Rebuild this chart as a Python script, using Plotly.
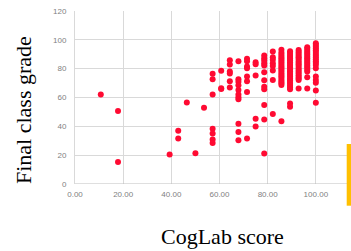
import plotly.graph_objects as go

# CogLab score columns (discrete) and the final grades observed at each
c_10_7 = [62.0]
c_17_9 = [50.6, 15.3]
c_39_3 = [20.4]
c_42_9 = [36.9, 31.6]
c_46_4 = [56.6]
c_50_0 = [21.4]
c_53_6 = [52.9]
c_57_1 = [76.4, 72.7, 62.0, 38.3, 35.1, 30.9, 28.5]
c_60_7 = [78.5, 65.9, 66.5]
c_64_3 = [85.9, 82.9, 78.0, 76.6, 71.3, 66.9]
c_67_9 = [85.2, 72.7, 71.0, 68.5, 65.2, 62.0, 60.1, 58.7, 41.8, 36.0, 30.4]
c_71_4 = [86.8, 85.2, 81.5, 80.3, 74.5, 71.3, 63.8, 31.6]
c_75_0 = [84.5, 83.1, 75.2, 45.3, 39.9]
c_78_6 = [89.1, 87.3, 85.7, 83.8, 82.2, 77.5, 72.0, 67.5, 65.7, 54.8, 44.8, 21.1]
c_82_1 = [91.9, 88.0, 86.1, 83.8, 81.9, 78.7, 72.2, 48.5]
c_85_7 = [93.1, 91.2, 89.8, 88.5, 87.2, 86.0, 84.8, 83.5, 82.2, 81.0, 79.8, 78.5,
          77.2, 76.0, 74.8, 73.5, 72.2, 71.0, 69.8, 68.7, 43.6]
c_89_3 = [92.0, 90.8, 89.5, 88.2, 87.0, 85.8, 84.5, 83.2, 82.0, 80.8, 79.5, 78.2,
          77.0, 75.8, 74.5, 73.2, 72.0, 70.8, 69.5, 68.2, 67.0, 65.7, 55.9, 53.6]
c_92_9 = [93.0, 91.8, 90.5, 89.2, 88.0, 86.8, 85.5, 84.2, 83.0, 81.8, 80.5, 79.2,
          78.0, 76.8, 75.5, 74.2, 73.2, 72.2, 66.2]
c_96_4 = [94.9, 93.6, 92.3, 91.0, 89.8, 88.5, 87.2, 86.0, 84.8, 83.5, 82.2, 81.0,
          79.5, 78.0, 74.0, 66.2]
c_100 = [97.7, 96.5, 95.2, 94.0, 92.8, 91.5, 90.2, 89.0, 87.8, 86.5, 85.2, 84.0,
         82.6, 80.3, 74.5, 72.2, 70.3, 64.8, 56.4]

columns = [
    (10.71, c_10_7), (17.86, c_17_9), (39.29, c_39_3), (42.86, c_42_9),
    (46.43, c_46_4), (50.00, c_50_0), (53.57, c_53_6), (57.14, c_57_1),
    (60.71, c_60_7), (64.29, c_64_3), (67.86, c_67_9), (71.43, c_71_4),
    (75.00, c_75_0), (78.57, c_78_6), (82.14, c_82_1), (85.71, c_85_7),
    (89.29, c_89_3), (92.86, c_92_9), (96.43, c_96_4), (100.00, c_100),
]

x_vals = []
y_vals = []
for score, grades in columns:
    for g in grades:
        x_vals.append(score)
        y_vals.append(g)

x_ticks = [0, 20, 40, 60, 80, 100]
x_tick_text = ["0.00", "20.00", "40.00", "60.00", "80.00", "100.00"]
y_ticks = [0, 20, 40, 60, 80, 100, 120]

fig = go.Figure()
fig.add_trace(go.Scatter(
    x=x_vals, y=y_vals, mode="markers",
    marker=dict(color="#FF0A32", size=6, line=dict(width=0)),
    hoverinfo="x+y",
))

tick_font = dict(family="Liberation Sans, Arial, sans-serif", size=8, color="#7F7F7F")

fig.update_layout(
    width=351, height=251,
    margin=dict(l=75, r=0, t=11, b=67),
    paper_bgcolor="white", plot_bgcolor="white",
    showlegend=False,
    xaxis=dict(
        range=[0, 114.6], tickvals=x_ticks, ticktext=x_tick_text,
        showgrid=True, gridcolor="#D9D9D9", gridwidth=1,
        zeroline=False, showline=False, ticks="",
        tickfont=tick_font, ticklabelstandoff=4,
    ),
    yaxis=dict(
        range=[0, 120], tickvals=y_ticks,
        showgrid=True, gridcolor="#D9D9D9", gridwidth=1,
        zeroline=False, showline=True, linecolor="#D9D9D9", linewidth=1,
        ticks="", tickfont=tick_font, ticklabelstandoff=6,
    ),
    annotations=[
        dict(text="CogLab score", xref="paper", yref="paper",
             x=(222 - 75) / 276, y=(184 - 237) / 173,
             xanchor="center", yanchor="middle", showarrow=False,
             font=dict(family="Liberation Serif, Times New Roman, serif", size=22, color="black")),
        dict(text="Final class grade", xref="paper", yref="paper",
             x=(23 - 75) / 276, y=(184 - 110) / 173, textangle=-90,
             xanchor="center", yanchor="middle", showarrow=False,
             font=dict(family="Liberation Serif, Times New Roman, serif", size=22, color="black")),
    ],
    shapes=[
        dict(type="line", xref="paper", yref="y", x0=0, x1=1, y0=0, y1=0,
             line=dict(color="#BFBFBF", width=1)),
        dict(type="rect", xref="paper", yref="paper",
             x0=(346.7 - 75) / 276, x1=1.0,
             y0=(184 - 205.7) / 173, y1=(184 - 144) / 173,
             fillcolor="#FFC000", line=dict(width=0), layer="above"),
    ],
)

fig.write_html("out.html",
               config={"displayModeBar": False},
               post_script="document.body.style.margin='0';document.body.style.overflow='hidden';")
